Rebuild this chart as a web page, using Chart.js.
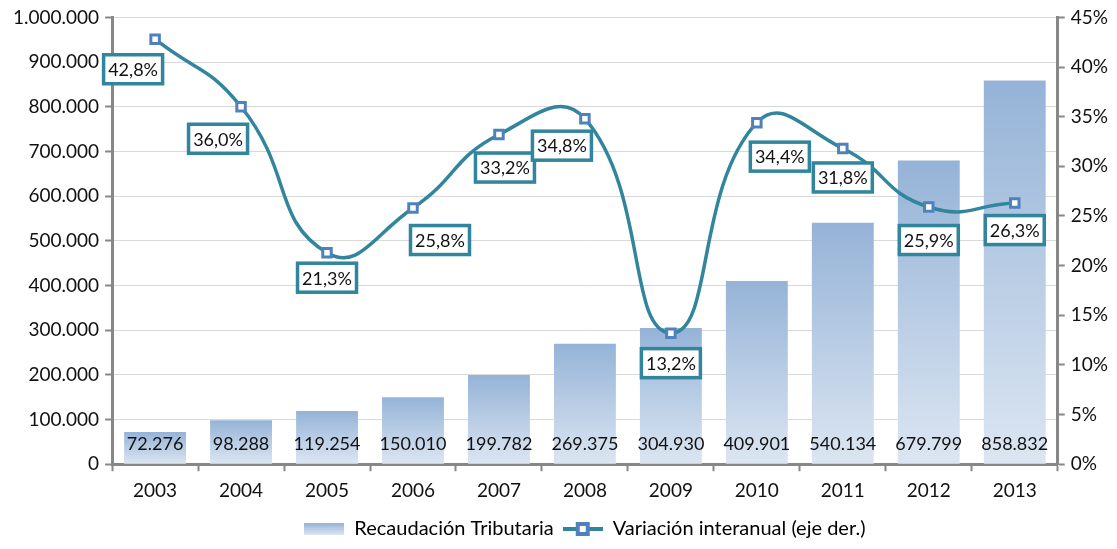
<!DOCTYPE html>
<html>
<head>
<meta charset="utf-8">
<script src="https://cdn.jsdelivr.net/npm/chart.js@4/dist/chart.umd.min.js"></script>
<style>
  html, body { margin: 0; padding: 0; background: #fff; }
  #wrap { width: 1117px; height: 549px; }
</style>
</head>
<body>
<div id="wrap"><canvas id="chart"></canvas></div>
<script>
const years = ["2003", "2004", "2005", "2006", "2007", "2008", "2009", "2010", "2011", "2012", "2013"];
const recaudacion = [72276, 98288, 119254, 150010, 199782, 269375, 304930, 409901, 540134, 679799, 858832];
const variacion = [42.8, 36.0, 21.3, 25.8, 33.2, 34.8, 13.2, 34.4, 31.8, 25.9, 26.3];

// label box offsets from each point (px), like in the original
const labelOffsets = [[-22, 30], [-23, 32], [0, 25], [27, 32], [6, 33], [-23, 27], [0, 30], [23, 34], [0, 29], [0, 33], [0, 27]];

const FONT = "Lato, 'Open Sans', sans-serif";
const TEAL = "#31859C";
const AXIS = "#878787";

function fmtMiles(v) {
  return String(Math.round(v)).replace(/\B(?=(\d{3})+(?!\d))/g, ".");
}
function fmtPct(v) {
  return v.toFixed(1).replace(".", ",") + "%";
}

// legend swatches
function barSwatch() {
  const c = document.createElement("canvas");
  c.width = 40; c.height = 12;
  const g = c.getContext("2d");
  const gr = g.createLinearGradient(0, 0, 0, 12);
  gr.addColorStop(0, "#95B3D7");
  gr.addColorStop(1, "#DCE6F2");
  g.fillStyle = gr;
  g.fillRect(0, 0, 40, 12);
  return c;
}
function lineSwatch() {
  const c = document.createElement("canvas");
  c.width = 40; c.height = 16;
  const g = c.getContext("2d");
  g.strokeStyle = TEAL;
  g.lineWidth = 4;
  g.beginPath(); g.moveTo(0, 8); g.lineTo(40, 8); g.stroke();
  g.fillStyle = "#4F81BD";
  g.fillRect(13, 1, 14, 14);
  g.fillStyle = "#fff";
  g.fillRect(17, 5, 6, 6);
  return c;
}

const labelsPlugin = {
  id: "valueLabels",
  afterDatasetsDraw(chart) {
    const ctx = chart.ctx;
    ctx.save();
    ctx.textAlign = "center";
    ctx.textBaseline = "middle";
    ctx.font = "18px " + FONT;
    ctx.fillStyle = "#111";
    const barMeta = chart.getDatasetMeta(0);
    barMeta.data.forEach((el, i) => {
      ctx.fillText(fmtMiles(recaudacion[i]), el.x, el.base - 20);
    });
    const lineMeta = chart.getDatasetMeta(1);
    lineMeta.data.forEach((el, i) => {
      const cx = el.x + labelOffsets[i][0];
      const cy = el.y + labelOffsets[i][1];
      const w = 59, h = 29;
      ctx.fillStyle = "#fff";
      ctx.fillRect(cx - w / 2, cy - h / 2, w, h);
      ctx.strokeStyle = TEAL;
      ctx.lineWidth = 3.5;
      ctx.strokeRect(cx - w / 2, cy - h / 2, w, h);
      ctx.fillStyle = "#111";
      ctx.fillText(fmtPct(variacion[i]), cx, cy + 1);
    });
    ctx.restore();
  }
};

const ctx = document.getElementById("chart").getContext("2d");

new Chart(ctx, {
  type: "bar",
  data: {
    labels: years,
    datasets: [
      {
        type: "bar",
        label: "Recaudación Tributaria",
        data: recaudacion,
        yAxisID: "y",
        order: 2,
        categoryPercentage: 0.72,
        barPercentage: 1,
        backgroundColor(c) {
          const ys = c.chart.scales.y;
          if (!ys || !c.chart.chartArea || c.raw == null) return "#B8CCE4";
          const top = ys.getPixelForValue(c.raw);
          const base = ys.getPixelForValue(0);
          const g = c.chart.ctx.createLinearGradient(0, top, 0, base);
          g.addColorStop(0, "#95B3D7");
          g.addColorStop(1, "#DCE6F2");
          return g;
        }
      },
      {
        type: "line",
        label: "Variación interanual (eje der.)",
        data: variacion,
        yAxisID: "y1",
        order: 1,
        borderColor: TEAL,
        borderWidth: 3.5,
        tension: 0.5,
        pointStyle: "rect",
        pointRadius: 6,
        pointBorderWidth: 3,
        pointBorderColor: "#4F81BD",
        pointBackgroundColor: "#fff",
        fill: false
      }
    ]
  },
  options: {
    responsive: true,
    maintainAspectRatio: false,
    animation: false,
    layout: { padding: { top: 2, right: 3, left: 7, bottom: 0 } },
    plugins: {
      tooltip: { enabled: false },
      legend: {
        position: "bottom",
        fullSize: false,
        labels: {
          usePointStyle: true,
          pointStyleWidth: 40,
          padding: 9,
          color: "#111",
          font: { family: FONT, size: 20 },
          generateLabels(chart) {
            return [
              { text: "Recaudación Tributaria", pointStyle: barSwatch(), datasetIndex: 0, fillStyle: "#B8CCE4", strokeStyle: "transparent", lineWidth: 0 },
              { text: "Variación interanual (eje der.)", pointStyle: lineSwatch(), datasetIndex: 1, fillStyle: TEAL, strokeStyle: "transparent", lineWidth: 0 }
            ];
          }
        }
      }
    },
    scales: {
      x: {
        grid: {
          offset: true,
          drawOnChartArea: false,
          tickColor: AXIS,
          tickWidth: 2,
          tickLength: 7
        },
        border: { color: AXIS, width: 3 },
        ticks: { color: "#111", font: { family: FONT, size: 19 }, padding: 8 }
      },
      y: {
        position: "left",
        min: 0,
        max: 1000000,
        grid: {
          color: "#D9D9D9",
          lineWidth: 1,
          borderDash: [2, 3],
          tickColor: AXIS,
          tickWidth: 2,
          tickLength: 7,
          tickBorderDash: []
        },
        border: { color: AXIS, width: 3 },
        ticks: {
          stepSize: 100000,
          color: "#111",
          font: { family: FONT, size: 19 },
          padding: 6,
          callback: v => fmtMiles(v)
        }
      },
      y1: {
        position: "right",
        min: 0,
        max: 45,
        grid: {
          drawOnChartArea: false,
          tickColor: AXIS,
          tickWidth: 2,
          tickLength: 7
        },
        border: { color: AXIS, width: 3 },
        ticks: {
          stepSize: 5,
          color: "#111",
          font: { family: FONT, size: 19 },
          padding: 6,
          callback: v => v + "%"
        }
      }
    }
  },
  plugins: [labelsPlugin]
});
</script>
</body>
</html>
